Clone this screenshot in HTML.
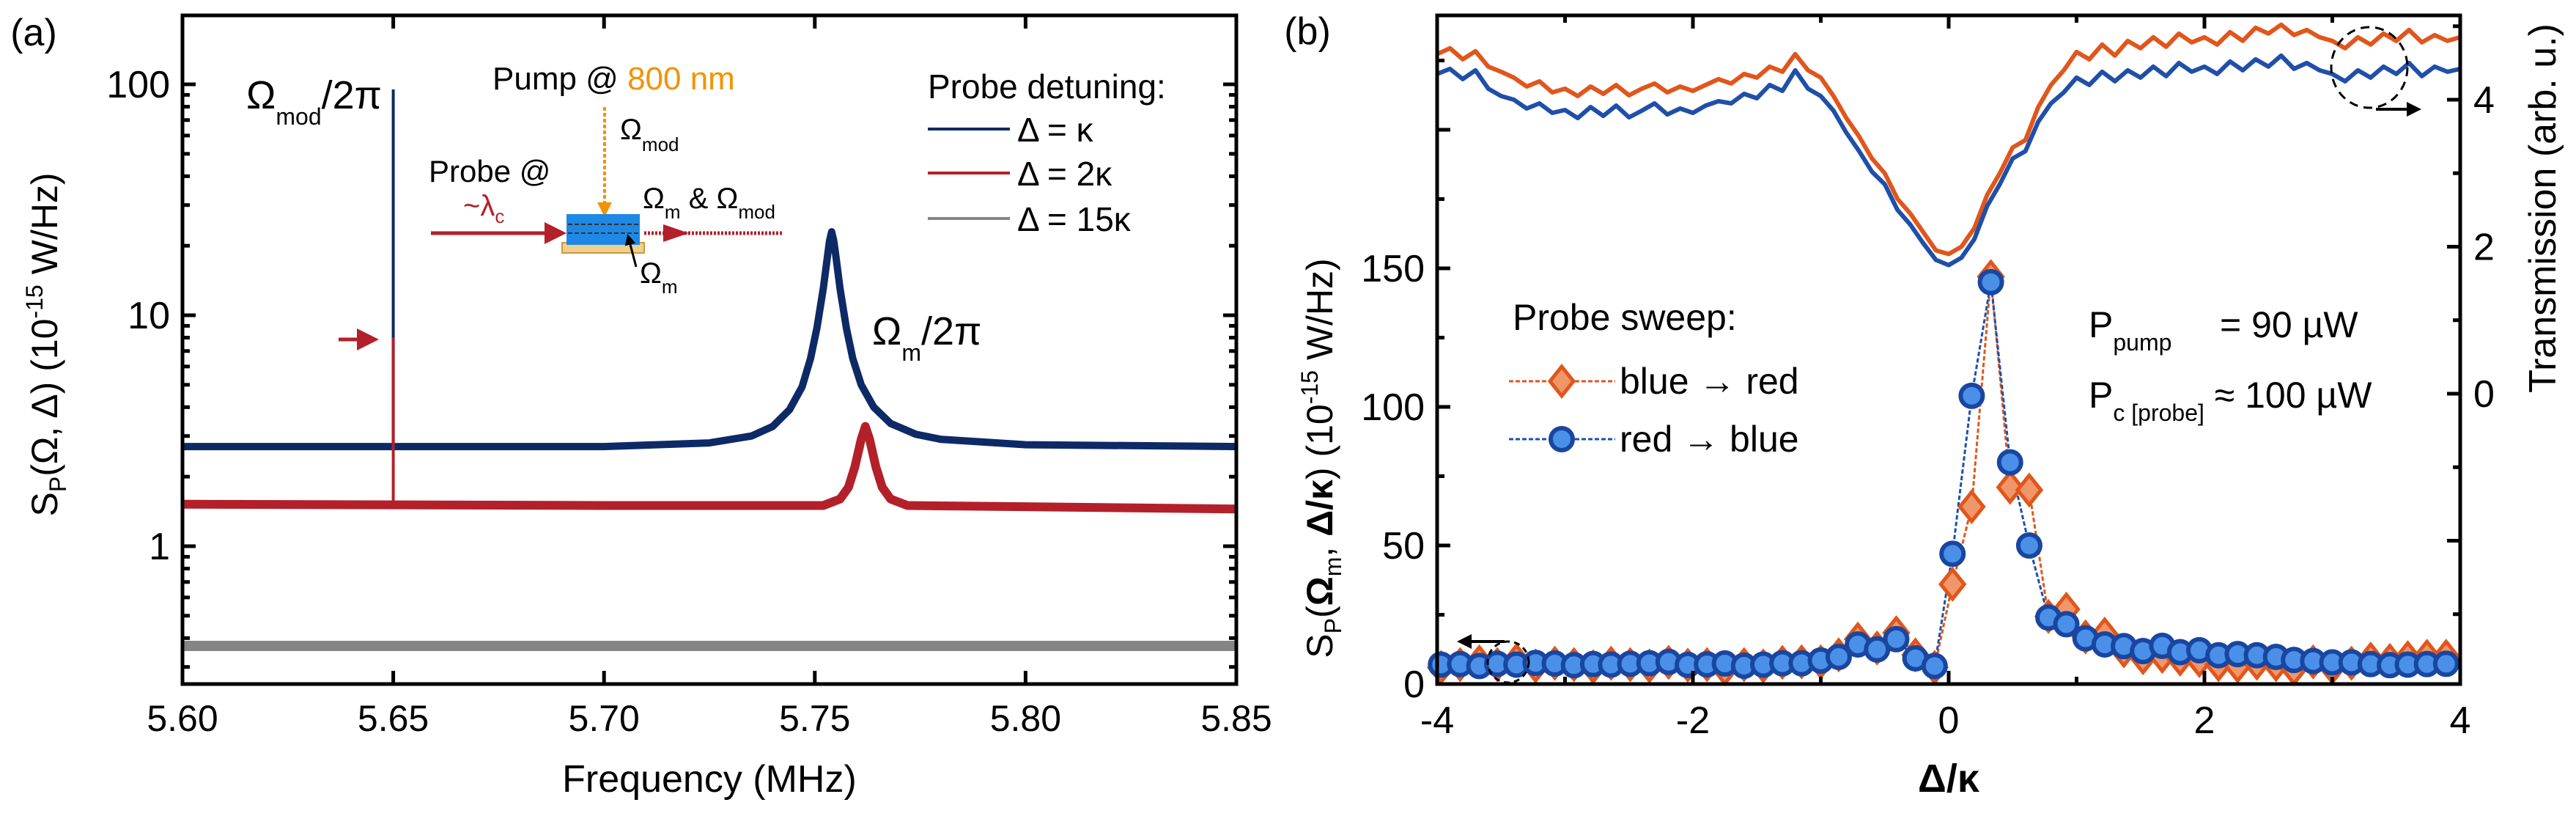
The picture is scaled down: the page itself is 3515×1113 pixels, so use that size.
<!DOCTYPE html>
<html><head><meta charset="utf-8"><style>
html,body{margin:0;padding:0;background:#fff;}
svg{display:block;font-family:"Liberation Sans",sans-serif;}
</style></head><body>
<svg id="fig" width="3515" height="1113" viewBox="0 0 3515 1113" xmlns="http://www.w3.org/2000/svg">
<defs>
<marker id="ahR" markerWidth="6" markerHeight="6" refX="5" refY="3" orient="auto" markerUnits="strokeWidth"><path d="M0,0 L6,3 L0,6 z" fill="#b3202a"/></marker>
<marker id="ahO" markerWidth="5" markerHeight="5" refX="4" refY="2.5" orient="auto" markerUnits="strokeWidth"><path d="M0,0 L5,2.5 L0,5 z" fill="#f39200"/></marker>
<marker id="ahK" markerWidth="5" markerHeight="5" refX="4" refY="2.5" orient="auto" markerUnits="strokeWidth"><path d="M0,0 L5,2.5 L0,5 z" fill="#000"/></marker>
</defs>
<g id="pa"></g>
<g id="pb"></g>
</svg>
<script>
// ---------- Panel (a) data ----------
const aTickFreqs = [5.60, 5.65, 5.70, 5.75, 5.80, 5.85];
const aTickLabels = ["5.60", "5.65", "5.70", "5.75", "5.80", "5.85"];
const aDecades = [1, 10, 100];
const aDecadeLabels = ["1", "10", "100"];
const blueFreq = [5.60, 5.70, 5.725, 5.735, 5.740, 5.744, 5.747, 5.749, 5.7505, 5.752, 5.753, 5.7535, 5.754, 5.7545, 5.755, 5.756, 5.7575, 5.759, 5.761, 5.764, 5.768, 5.774, 5.78, 5.80, 5.85];
const blueVal  = [2.7, 2.7, 2.8, 3.0, 3.3, 3.9, 4.9, 6.5, 8.8, 13, 18, 21, 23, 21, 18, 13, 8.8, 6.5, 5.0, 4.0, 3.4, 3.05, 2.9, 2.75, 2.7];
const redFreq = [5.60, 5.70, 5.752, 5.756, 5.758, 5.7595, 5.761, 5.762, 5.763, 5.7645, 5.766, 5.768, 5.772, 5.85];
const redVal  = [1.52, 1.5, 1.5, 1.6, 1.8, 2.2, 2.9, 3.3, 2.9, 2.2, 1.8, 1.6, 1.5, 1.45];
const greyFreq = [5.60, 5.85];
const greyVal = [0.37, 0.37];
const spikeFreq = 5.65;
const spikeBlueTop = 95;
const spikeRedTop = 8;

// ---------- Panel (b) data ----------
const bTicks = [-4, -2, 0, 2, 4];
const bTickLabels = ["-4", "-2", "0", "2", "4"];
const leftTicks = [0, 50, 100, 150];
const rightTicks = [0, 2, 4];
const sweepDelta = [-3.97,-3.82,-3.67,-3.53,-3.38,-3.23,-3.08,-2.93,-2.78,-2.64,-2.49,-2.34,-2.19,-2.04,-1.89,-1.75,-1.60,-1.45,-1.30,-1.15,-1.00,-0.86,-0.71,-0.56,-0.41,-0.26,-0.11,0.03,0.18,0.33,0.48,0.63,0.78,0.92,1.07,1.22,1.37,1.52,1.67,1.81,1.96,2.11,2.26,2.41,2.56,2.70,2.85,3.00,3.15,3.30,3.45,3.59,3.74,3.89];
const redToBlue = [7.0,7.2,6.5,7.3,7.0,7.6,7.4,6.8,7.2,7.0,7.3,7.5,8.0,6.9,7.1,7.4,6.6,7.0,7.5,7.5,8.5,9.8,14.3,12.5,16.2,9.3,6.5,47,104,145,80,50,24,21.6,16.5,14.3,13.7,11.9,13.8,11.5,12.2,10.4,10.8,10.4,9.8,8.7,8.3,7.8,7.8,7.2,6.8,7.0,7.2,7.3];
const blueToRed = [6.0,7.0,8.0,7.0,8.5,6.5,7.5,7.0,6.2,7.5,7.0,6.5,7.8,6.8,7.0,5.5,7.0,6.5,7.8,8.0,8.0,10.5,16.2,13,18.5,10.5,6,36,64,147,71,70,24.4,27,17,18,12,9.5,10,9,8.5,7,6.5,7.5,7,5.5,8,6,7.5,9,8.5,9.5,10,10];
const transDelta = [-4.0,-3.9,-3.8,-3.7,-3.6,-3.5,-3.4,-3.3,-3.2,-3.1,-3.0,-2.9,-2.8,-2.7,-2.6,-2.5,-2.4,-2.3,-2.2,-2.1,-2.0,-1.9,-1.8,-1.7,-1.6,-1.5,-1.4,-1.3,-1.2,-1.1,-1.0,-0.9,-0.8,-0.7,-0.6,-0.5,-0.4,-0.3,-0.2,-0.1,0.0,0.1,0.2,0.3,0.4,0.5,0.6,0.7,0.8,0.9,1.0,1.1,1.2,1.3,1.4,1.5,1.6,1.7,1.8,1.9,2.0,2.1,2.2,2.3,2.4,2.5,2.6,2.7,2.8,2.9,3.0,3.1,3.2,3.3,3.4,3.5,3.6,3.7,3.8,3.9,4.0];
const transOrange = [4.62,4.70,4.55,4.66,4.45,4.38,4.30,4.18,4.25,4.10,4.15,4.05,4.18,4.08,4.20,4.06,4.15,4.22,4.10,4.18,4.12,4.20,4.28,4.22,4.35,4.30,4.45,4.38,4.62,4.40,4.30,4.05,3.75,3.50,3.20,3.00,2.65,2.45,2.20,1.95,1.90,2.00,2.25,2.70,3.00,3.35,3.45,3.90,4.20,4.40,4.65,4.55,4.75,4.60,4.80,4.70,4.85,4.72,4.90,4.78,4.85,4.75,4.92,4.80,4.98,4.90,5.02,4.88,4.95,4.85,4.80,4.70,4.85,4.75,4.90,4.80,4.95,4.78,4.88,4.80,4.85];
const transBlue = [4.35,4.42,4.28,4.40,4.15,4.05,4.00,3.88,3.95,3.82,3.86,3.75,3.90,3.78,3.92,3.76,3.85,3.95,3.80,3.88,3.82,3.92,3.98,3.95,4.08,4.02,4.20,4.12,4.40,4.15,4.05,3.85,3.55,3.30,3.02,2.85,2.50,2.30,2.05,1.82,1.75,1.85,2.10,2.55,2.85,3.20,3.30,3.70,3.95,4.10,4.30,4.20,4.38,4.25,4.40,4.30,4.45,4.32,4.50,4.38,4.45,4.35,4.52,4.40,4.55,4.45,4.60,4.42,4.50,4.40,4.35,4.25,4.40,4.30,4.45,4.35,4.50,4.32,4.45,4.38,4.42];

const NS = "http://www.w3.org/2000/svg";
function mk(parent, tag, attrs, text){
  const e = document.createElementNS(NS, tag);
  for (const k in attrs) e.setAttribute(k, attrs[k]);
  if (text !== undefined) e.textContent = text;
  parent.appendChild(e);
  return e;
}
const pa = document.getElementById('pa');
const pb = document.getElementById('pb');

const AX0 = 249, AX1 = 1687, AY0 = 21, AY1 = 933;
const xa = f => AX0 + (f - 5.6) / 0.25 * (AX1 - AX0);
const ya = v => 745 - 315 * Math.log10(v);

function lineA(fr, vals, color, w, name){
  const d = fr.map((f,i)=>(i?'L':'M')+xa(f).toFixed(1)+','+ya(vals[i]).toFixed(1)).join(' ');
  const p = mk(pa,'path',{d:d,fill:'none',stroke:color,'stroke-width':w,'stroke-linejoin':'round'});
  
  
}
lineA(greyFreq, greyVal, '#858585', 14, 'trace-delta-15kappa');
lineA(redFreq, redVal, '#b3202a', 12, 'trace-delta-2kappa');
lineA(blueFreq, blueVal, '#0d2a66', 10, 'trace-delta-kappa');
let sp = mk(pa,'line',{x1:xa(spikeFreq),x2:xa(spikeFreq),y1:ya(2.7),y2:ya(spikeBlueTop),stroke:'#0d2a66','stroke-width':4});


sp = mk(pa,'line',{x1:xa(spikeFreq),x2:xa(spikeFreq),y1:ya(1.5),y2:ya(spikeRedTop),stroke:'#b3202a','stroke-width':4});



let fr = mk(pa,'rect',{x:AX0,y:AY0,width:AX1-AX0,height:AY1-AY0,fill:'none',stroke:'#000','stroke-width':5});


aTickFreqs.forEach((f,i)=>{
  const x = xa(f);
  mk(pa,'line',{x1:x,x2:x,y1:AY1,y2:AY1-18,stroke:'#000','stroke-width':5});
  mk(pa,'line',{x1:x,x2:x,y1:AY0,y2:AY0+18,stroke:'#000','stroke-width':5});
  const t = mk(pa,'text',{x:x,y:997,'font-size':50,'text-anchor':'middle'},aTickLabels[i]);
  
  
});
for (let d=0.1; d<=1000; d*=10){
  for (let m=1;m<10;m++){
    const v = d*m, y = ya(v);
    if (y < AY0+2 || y > AY1-2) continue;
    const L = m===1 ? 18 : 10;
    mk(pa,'line',{x1:AX0,x2:AX0+L,y1:y,y2:y,stroke:'#000','stroke-width':5});
    mk(pa,'line',{x1:AX1,x2:AX1-L,y1:y,y2:y,stroke:'#000','stroke-width':5});
  }
}
aDecades.forEach((v,i)=>{
  const t = mk(pa,'text',{x:232,y:ya(v)+18,'font-size':52,'text-anchor':'end'},aDecadeLabels[i]);
  
  
});
let t;
t = mk(pa,'text',{x:46,y:62,'font-size':52,'text-anchor':'middle'},'(a)');
 
t = mk(pa,'text',{x:968,y:1080,'font-size':52,'text-anchor':'middle'},'Frequency (MHz)');
 
t = mk(pa,'text',{x:0,y:0,'font-size':50,'text-anchor':'middle',transform:'translate(78,470) rotate(-90)'});
 
t.innerHTML = 'S<tspan font-size="32" dy="12">P</tspan><tspan dy="-12">(Ω, Δ) (10</tspan><tspan font-size="32" dy="-20">-15</tspan><tspan dy="20"> W/Hz)</tspan>';

t = mk(pa,'text',{x:336,y:148,'font-size':54});
 
t.innerHTML = 'Ω<tspan font-size="32" dy="22">mod</tspan><tspan dy="-22">/2π</tspan>';
t = mk(pa,'text',{x:1190,y:470,'font-size':54});
 
t.innerHTML = 'Ω<tspan font-size="32" dy="22">m</tspan><tspan dy="-22">/2π</tspan>';
let ar = mk(pa,'line',{x1:462,x2:512,y1:463,y2:463,stroke:'#b3202a','stroke-width':5,'marker-end':'url(#ahR)'});
 
t = mk(pa,'text',{x:672,y:122,'font-size':44});
 
t.innerHTML = 'Pump @ <tspan fill="#f39200">800 nm</tspan>';
ar = mk(pa,'line',{x1:825,x2:825,y1:146,y2:292,stroke:'#f39200','stroke-width':4,'stroke-dasharray':'5,3','marker-end':'url(#ahO)'});
 
t = mk(pa,'text',{x:846,y:190,'font-size':40});
 
t.innerHTML = 'Ω<tspan font-size="26" dy="16">mod</tspan>';
t = mk(pa,'text',{x:585,y:248,'font-size':42},'Probe @');
 
t = mk(pa,'text',{x:632,y:294,'font-size':40,fill:'#b3202a'});
 
t.innerHTML = '~λ<tspan font-size="26" dy="10">c</tspan>';
ar = mk(pa,'line',{x1:588,x2:768,y1:318,y2:318,stroke:'#b3202a','stroke-width':5,'marker-end':'url(#ahR)'});
 
let ch = mk(pa,'rect',{x:767,y:331,width:112,height:14,fill:'#f0d08a',stroke:'#c89a40','stroke-width':2});
 
ch = mk(pa,'rect',{x:773,y:292,width:100,height:42,fill:'#1e88e5'});
 
mk(pa,'line',{x1:775,x2:871,y1:306,y2:306,stroke:'#333','stroke-width':2,'stroke-dasharray':'6,3'});
mk(pa,'line',{x1:775,x2:871,y1:318,y2:318,stroke:'#333','stroke-width':2,'stroke-dasharray':'6,3'});
ar = mk(pa,'line',{x1:879,x2:1068,y1:318,y2:318,stroke:'#b3202a','stroke-width':5,'stroke-dasharray':'3,2'});
 
mk(pa,'path',{d:'M905,306 L940,318 L905,330 z',fill:'#b3202a'});
t = mk(pa,'text',{x:877,y:284,'font-size':40});
 
t.innerHTML = 'Ω<tspan font-size="26" dy="14">m</tspan><tspan dy="-14"> &amp; Ω</tspan><tspan font-size="26" dy="14">mod</tspan>';
t = mk(pa,'text',{x:873,y:386,'font-size':40});
 
t.innerHTML = 'Ω<tspan font-size="26" dy="14">m</tspan>';
ar = mk(pa,'line',{x1:868,x2:857,y1:364,y2:322,stroke:'#000','stroke-width':3,'marker-end':'url(#ahK)'});
 
t = mk(pa,'text',{x:1266,y:134,'font-size':46},'Probe detuning:');
 
const legA = [['#0d2a66','Δ = κ',176],['#b3202a','Δ = 2κ',236],['#858585','Δ = 15κ',298]];
legA.forEach(l=>{
  const g = mk(pa,'g',{});
   
  mk(g,'line',{x1:1266,x2:1378,y1:l[2],y2:l[2],stroke:l[0],'stroke-width':4});
  mk(g,'text',{x:1388,y:l[2]+17,'font-size':46},l[1]);
});

const BX0 = 1961, BX1 = 3357, BY0 = 21, BY1 = 933;
const xb = d => 2659 + d * 174.5;
const yl = v => 933 - v * 3.78;
const yr = v => 537 - v * 100.25;

function trans(vals, color, name){
  const d = transDelta.map((x,i)=>(i?'L':'M')+xb(x).toFixed(1)+','+yr(vals[i]).toFixed(1)).join(' ');
  const p = mk(pb,'path',{d:d,fill:'none',stroke:color,'stroke-width':6,'stroke-linejoin':'round'});
  
  
}
trans(transOrange,'#e0561c','transmission-blue-to-red');
trans(transBlue,'#1f4fa8','transmission-red-to-blue');

function sweepLine(vals,color,name){
  const d = sweepDelta.map((x,i)=>(i?'L':'M')+xb(x).toFixed(1)+','+yl(vals[i]).toFixed(1)).join(' ');
  const p = mk(pb,'path',{d:d,fill:'none',stroke:color,'stroke-width':3,'stroke-dasharray':'6,3'});
  
  
}
sweepLine(blueToRed,'#e0561c','sweep-line-blue-to-red');
sweepLine(redToBlue,'#1f4fa8','sweep-line-red-to-blue');
blueToRed.forEach((v,i)=>{
  const x = xb(sweepDelta[i]), y = yl(v);
  const m = mk(pb,'path',{d:`M${x},${y-20} L${x+16},${y} L${x},${y+20} L${x-16},${y} z`,fill:'#f19668',stroke:'#e0561c','stroke-width':5});
  
  
});
redToBlue.forEach((v,i)=>{
  const x = xb(sweepDelta[i]), y = yl(v);
  const m = mk(pb,'circle',{cx:x,cy:y,r:15,fill:'#4a90e8',stroke:'#1846a0','stroke-width':6});
  
  
});

fr = mk(pb,'rect',{x:BX0,y:BY0,width:BX1-BX0,height:BY1-BY0,fill:'none',stroke:'#000','stroke-width':5});


for (let d=-4; d<=4; d++){
  const x = xb(d), L = d%2===0 ? 18 : 10;
  mk(pb,'line',{x1:x,x2:x,y1:BY1,y2:BY1-L,stroke:'#000','stroke-width':5});
  mk(pb,'line',{x1:x,x2:x,y1:BY0,y2:BY0+L,stroke:'#000','stroke-width':5});
}
bTicks.forEach((d,i)=>{
  const tt = mk(pb,'text',{x:xb(d),y:1000,'font-size':52,'text-anchor':'middle'},bTickLabels[i]);
   
});
for (let v=0; v<=225; v+=25){
  const L = v%50===0 ? 18 : 10;
  mk(pb,'line',{x1:BX0,x2:BX0+L,y1:yl(v),y2:yl(v),stroke:'#000','stroke-width':5});
}
leftTicks.forEach(v=>{
  const tt = mk(pb,'text',{x:1944,y:yl(v)+18,'font-size':52,'text-anchor':'end'},String(v));
   
});
for (let v=-3; v<=5; v++){
  const L = v%2===0 ? 18 : 10;
  mk(pb,'line',{x1:BX1,x2:BX1-L,y1:yr(v),y2:yr(v),stroke:'#000','stroke-width':5});
}
rightTicks.forEach(v=>{
  const tt = mk(pb,'text',{x:3375,y:yr(v)+18,'font-size':52},String(v));
   
});
t = mk(pb,'text',{x:1784,y:60,'font-size':52,'text-anchor':'middle'},'(b)');
 
t = mk(pb,'text',{x:2659,y:1080,'font-size':54,'font-weight':'bold','text-anchor':'middle'},'Δ/κ');
 
t = mk(pb,'text',{x:0,y:0,'font-size':50,'text-anchor':'middle',transform:'translate(1818,625) rotate(-90)'});
 
t.innerHTML = 'S<tspan font-size="32" dy="12">P</tspan><tspan dy="-12">(</tspan><tspan font-weight="bold">Ω</tspan><tspan font-size="32" dy="12">m</tspan><tspan dy="-12">, </tspan><tspan font-weight="bold">Δ/κ</tspan><tspan>) (10</tspan><tspan font-size="32" dy="-20">-15</tspan><tspan dy="20"> W/Hz)</tspan>';
t = mk(pb,'text',{x:0,y:0,'font-size':52,'text-anchor':'middle',transform:'translate(3487,284) rotate(-90)'},'Transmission (arb. u.)');
 

t = mk(pb,'text',{x:2064,y:450,'font-size':50},'Probe sweep:');
 
let g = mk(pb,'g',{});
 
mk(g,'line',{x1:2059,x2:2204,y1:520,y2:520,stroke:'#e0561c','stroke-width':3,'stroke-dasharray':'6,3'});
mk(g,'path',{d:'M2131,500 L2147,520 L2131,540 L2115,520 z',fill:'#f19668',stroke:'#e0561c','stroke-width':5});
mk(g,'text',{x:2210,y:537,'font-size':50},'blue → red');
g = mk(pb,'g',{});
 
mk(g,'line',{x1:2059,x2:2204,y1:599,y2:599,stroke:'#1f4fa8','stroke-width':3,'stroke-dasharray':'6,3'});
mk(g,'circle',{cx:2131,cy:599,r:15,fill:'#4a90e8',stroke:'#1846a0','stroke-width':6});
mk(g,'text',{x:2210,y:616,'font-size':50},'red → blue');
t = mk(pb,'text',{x:2850,y:460,'font-size':50});
 
t.innerHTML = 'P<tspan font-size="32" dy="18">pump</tspan><tspan x="3029" dy="-18">= 90 µW</tspan>';
t = mk(pb,'text',{x:2850,y:556,'font-size':50});
 
t.innerHTML = 'P<tspan font-size="32" dy="18">c [probe]</tspan><tspan dy="-18"> ≈ 100 µW</tspan>';
let el = mk(pb,'ellipse',{cx:3233,cy:92,rx:52,ry:55,fill:'none',stroke:'#000','stroke-width':3,'stroke-dasharray':'12,8'});
 
ar = mk(pb,'line',{x1:3242,x2:3300,y1:149,y2:149,stroke:'#000','stroke-width':4,'marker-end':'url(#ahK)'});
 
el = mk(pb,'ellipse',{cx:2058,cy:903,rx:28,ry:28,fill:'none',stroke:'#000','stroke-width':3,'stroke-dasharray':'8,6'});
 
ar = mk(pb,'line',{x1:2053,x2:1992,y1:875,y2:875,stroke:'#000','stroke-width':4,'marker-end':'url(#ahK)'});
 
</script>
</body></html>
